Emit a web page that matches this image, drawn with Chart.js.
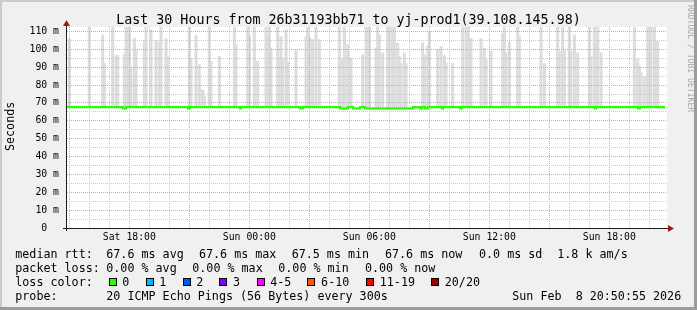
<!DOCTYPE html>
<html><head><meta charset="utf-8">
<script src="https://cdn.jsdelivr.net/npm/chart.js@4.4.1/dist/chart.umd.min.js"></script>
<style>
html,body{margin:0;padding:0;}
body{width:697px;height:310px;position:relative;overflow:hidden;background:#f0f0f0;font-family:'DejaVu Sans Mono',monospace;color:#000;}
#c{position:absolute;left:0;top:0;}
.t{position:absolute;white-space:pre;line-height:1;}
.lg{font-size:11.7px;}
.sw{position:absolute;width:8px;height:8px;box-sizing:border-box;border:1px solid #000;top:278px;}
.fr{position:absolute;}
</style></head><body>
<canvas id="c" width="697" height="310"></canvas>
<div class="t" style="left:0;width:697px;text-align:center;top:13.2px;font-size:13.3px;">Last 30 Hours from 26b31193bb71 to yj-prod1(39.108.145.98)</div>
<div class="t" style="left:5.4px;top:151px;font-size:11.7px;transform:rotate(-90deg);transform-origin:0 0;">Seconds</div>
<div class="t" style="left:695px;top:5px;font-size:8.1px;color:#a8a8a8;transform:rotate(90deg);transform-origin:0 0;">RRDTOOL / TOBI OETIKER</div>

<div class="t lg" style="left:15.3px;top:248.9px;">median rtt:</div>
<div class="t lg" style="left:106.3px;top:248.9px;">67.6 ms avg</div>
<div class="t lg" style="left:199px;top:248.9px;">67.6 ms max</div>
<div class="t lg" style="left:291.7px;top:248.9px;">67.5 ms min</div>
<div class="t lg" style="left:385px;top:248.9px;">67.6 ms now</div>
<div class="t lg" style="left:479px;top:248.9px;">0.0 ms sd</div>
<div class="t lg" style="left:557.3px;top:248.9px;">1.8 k am/s</div>

<div class="t lg" style="left:15.3px;top:262.8px;">packet loss:</div>
<div class="t lg" style="left:106.3px;top:262.8px;">0.00 % avg</div>
<div class="t lg" style="left:192.3px;top:262.8px;">0.00 % max</div>
<div class="t lg" style="left:278.3px;top:262.8px;">0.00 % min</div>
<div class="t lg" style="left:365px;top:262.8px;">0.00 % now</div>

<div class="t lg" style="left:15.3px;top:276.7px;">loss color:</div>
<div id="lossLegend"></div>

<div class="t lg" style="left:15.3px;top:290.6px;">probe:</div>
<div class="t lg" style="left:106.3px;top:290.6px;">20 ICMP Echo Pings (56 Bytes) every 300s</div>
<div class="t lg" style="left:512.3px;top:290.6px;">Sun Feb  8 20:50:55 2026</div>

<div class="fr" style="left:0;top:0;width:697px;height:2px;background:#cbcbcb;"></div>
<div class="fr" style="left:0;top:0;width:2px;height:310px;background:#cbcbcb;"></div>
<div class="fr" style="left:0;top:307px;width:697px;height:3px;background:#9c9c9c;"></div>
<div class="fr" style="left:694px;top:0;width:3px;height:310px;background:#9c9c9c;"></div>

<script>
// ---- time axis: minutes since Sat 00:00 ----
const X_MIN = 893;    // Sat 14:53
const X_MAX = 2693;   // Sun 20:53
const Y_MAX = 112.5;

const xLabelMinutes = [1080, 1440, 1800, 2160, 2520];
const xLabelText = ['Sat 18:00', 'Sun 00:00', 'Sun 06:00', 'Sun 12:00', 'Sun 18:00'];

// smoke (max rtt per 5-min step, ms) — only steps with visible smoke
const smokeTime = [900,960,1000,1005,1030,1040,1045,1065,1070,1075,1080,1085,1095,1100,1125,1130,1145,1160,1170,1175,1190,1195,
  1260,1265,1280,1290,1300,1305,1320,1325,1350,1395,1400,1435,1440,1455,1465,1490,1495,1500,1505,1525,1530,1535,1540,1550,1555,
  1580,1610,1615,1620,1630,1640,1650,1710,1720,1725,1735,1745,1780,1790,1795,1800,1820,1825,1830,1840,1855,1860,1870,1875,1885,
  1890,1895,1905,1910,1960,1965,1975,1980,2005,2015,2025,2030,2050,2080,2090,2095,2105,2135,2145,2150,2165,2200,2205,2210,2220,
  2245,2250,2315,2325,2365,2370,2380,2385,2400,2405,2415,2425,2460,2465,2475,2480,2485,2495,2595,2605,2610,2615,2625,2635,2640,
  2645,2655,2660,2665];
const smokeTop = [106,115,108,92,115,96.5,96.5,97,115,115,115,90,106,99.8,105,115,111,105,104,115,106,96,
  115,95,107.6,91.4,77.4,73.7,115,93.3,96,115,102.6,115,107.6,115,93.3,115,107,115,100.7,115,95.1,107,95,111,93,
  99.4,107,115,106.3,105.5,115,105.5,115,94.5,115,102.6,95,97,115,115,115,100.7,115,108,98,115,115,115,115,103.5,
  96,92,98,92,103.7,97,102,110,99.8,101.6,96.5,92.3,92.3,115,115,115,106.3,106,100.7,94.2,99,109,115,98,104,
  115,107,115,92,115,99,115,99.5,115,98.8,108,98,115,96,115,102.6,115,98,115,94.6,90.5,87,84.3,115,102,
  115,115,104.5,104.5];
const smokeBase = 67.6;

// median rtt (stepped)
const medianTime = [893,1061,1070,1256,1262,1412,1415,1592,1601,1712,1736,1751,1772,1787,1931,1952,1958,1967,1976,2018,2021,2072,2078,2477,2480,2606,2612,2687];
const medianValue = [67.6,67.0,67.6,67.0,67.6,67.0,67.6,67.0,67.6,67.0,67.6,67.0,67.6,67.0,67.6,67.0,67.6,67.0,67.6,67.0,67.6,67.0,67.6,67.0,67.6,67.0,67.6,67.6];

// loss colour legend
const lossLabels = ['0','1','2','3','4-5','6-10','11-19','20/20'];
const lossColors = ['#26ff00','#00b8ff','#0059ff','#7e00ff','#ff00ff','#ff5500','#ff0000','#a00000'];
const lossSwatchX = [108.5,145.5,182.5,219.3,256.5,307.3,366,431];

const lg = document.getElementById('lossLegend');
lossLabels.forEach((lab, i) => {
  const s = document.createElement('div');
  s.className = 'sw'; s.style.left = lossSwatchX[i] + 'px'; s.style.background = lossColors[i];
  lg.appendChild(s);
  const t = document.createElement('div');
  t.className = 't lg'; t.style.left = (lossSwatchX[i] + 13.8) + 'px'; t.style.top = '276.7px';
  t.textContent = lab;
  lg.appendChild(t);
});

const xGrid = []; for (let m = 900; m <= 2640; m += 60) xGrid.push(m);
const yGrid = []; for (let v = 0; v <= 110; v += 5) yGrid.push(v);

const MAJOR = '#e3a0a0';
const MINOR = '#c8c8c8';
const FONT = {family: "'DejaVu Sans Mono', monospace", size: 9.8};

const rrdFrame = {
  id: 'rrdFrame',
  beforeDraw(chart) {
    const {ctx, chartArea: a} = chart;
    ctx.save(); ctx.fillStyle = '#ffffff';
    ctx.fillRect(a.left, a.top, a.right - a.left, a.bottom - a.top);
    ctx.restore();
  },
  // redraw the grid over the smoke, under the median line (as rrdtool does)
  beforeDatasetDraw(chart, args) {
    if (args.index !== 0) return;
    chart.scales.x.drawGrid(chart.chartArea);
    chart.scales.y.drawGrid(chart.chartArea);
  },
  afterDraw(chart) {
    const {ctx, chartArea: a} = chart;
    const x0 = a.left - 0.5, y0 = a.bottom + 0.5;
    ctx.save();
    ctx.strokeStyle = '#1e1e1e'; ctx.lineWidth = 1;
    ctx.beginPath();
    ctx.moveTo(x0, a.bottom + 3); ctx.lineTo(x0, a.top - 2);
    ctx.moveTo(a.left - 4, y0); ctx.lineTo(a.right + 2, y0);
    ctx.stroke();
    ctx.fillStyle = '#9a1b1b';
    ctx.beginPath(); ctx.moveTo(x0 - 3.5, a.top - 1); ctx.lineTo(x0 + 3.5, a.top - 1); ctx.lineTo(x0, a.top - 7); ctx.closePath(); ctx.fill();
    ctx.beginPath(); ctx.moveTo(a.right + 1, y0 - 3.5); ctx.lineTo(a.right + 1, y0 + 3.5); ctx.lineTo(a.right + 7, y0); ctx.closePath(); ctx.fill();
    ctx.restore();
  }
};

new Chart(document.getElementById('c'), {
  type: 'line',
  data: {
    datasets: [
      {
        type: 'line', label: 'median rtt',
        data: medianTime.map((t, i) => ({x: t, y: medianValue[i]})),
        borderColor: '#26ff00', borderWidth: 2.2, pointRadius: 0, stepped: true, fill: false, order: 0
      },
      {
        type: 'bar', label: 'smoke',
        data: smokeTime.map((t, i) => ({x: t, y: [smokeBase, smokeTop[i]]})),
        backgroundColor: '#dddddd', borderWidth: 0, barThickness: 2.4, order: 1
      }
    ]
  },
  options: {
    responsive: false, animation: false, devicePixelRatio: 1,
    layout: {padding: {left: 0, right: 30, top: 27, bottom: 62}},
    plugins: {legend: {display: false}, tooltip: {enabled: false}, title: {display: false}},
    scales: {
      x: {
        type: 'linear', min: X_MIN, max: X_MAX, offset: false,
        afterBuildTicks: s => { s.ticks = xGrid.map(v => ({value: v})); },
        afterFit: s => { s.height = 20; },
        grid: {color: c => (c.tick && c.tick.value % 180 === 0) ? MAJOR : MINOR, lineWidth: 1, drawTicks: false, offset: false},
        border: {display: false, dash: [1, 1]},
        ticks: {autoSkip: false, maxRotation: 0, minRotation: 0, padding: 4, color: '#000', font: FONT,
          callback: v => { const i = xLabelMinutes.indexOf(v); return i >= 0 ? xLabelText[i] : ''; }}
      },
      y: {
        type: 'linear', min: 0, max: Y_MAX,
        afterBuildTicks: s => { s.ticks = yGrid.map(v => ({value: v})); },
        afterFit: s => { s.width = 67; },
        grid: {color: c => (c.tick && c.tick.value % 10 === 0) ? MAJOR : MINOR, lineWidth: 1, drawTicks: false},
        border: {display: false, dash: [1, 1]},
        ticks: {autoSkip: false, padding: 8, color: '#000', font: FONT,
          callback: v => v % 10 === 0 ? (v === 0 ? '0  ' : v + ' m') : ''}
      }
    }
  },
  plugins: [rrdFrame]
});
</script>
</body></html>
